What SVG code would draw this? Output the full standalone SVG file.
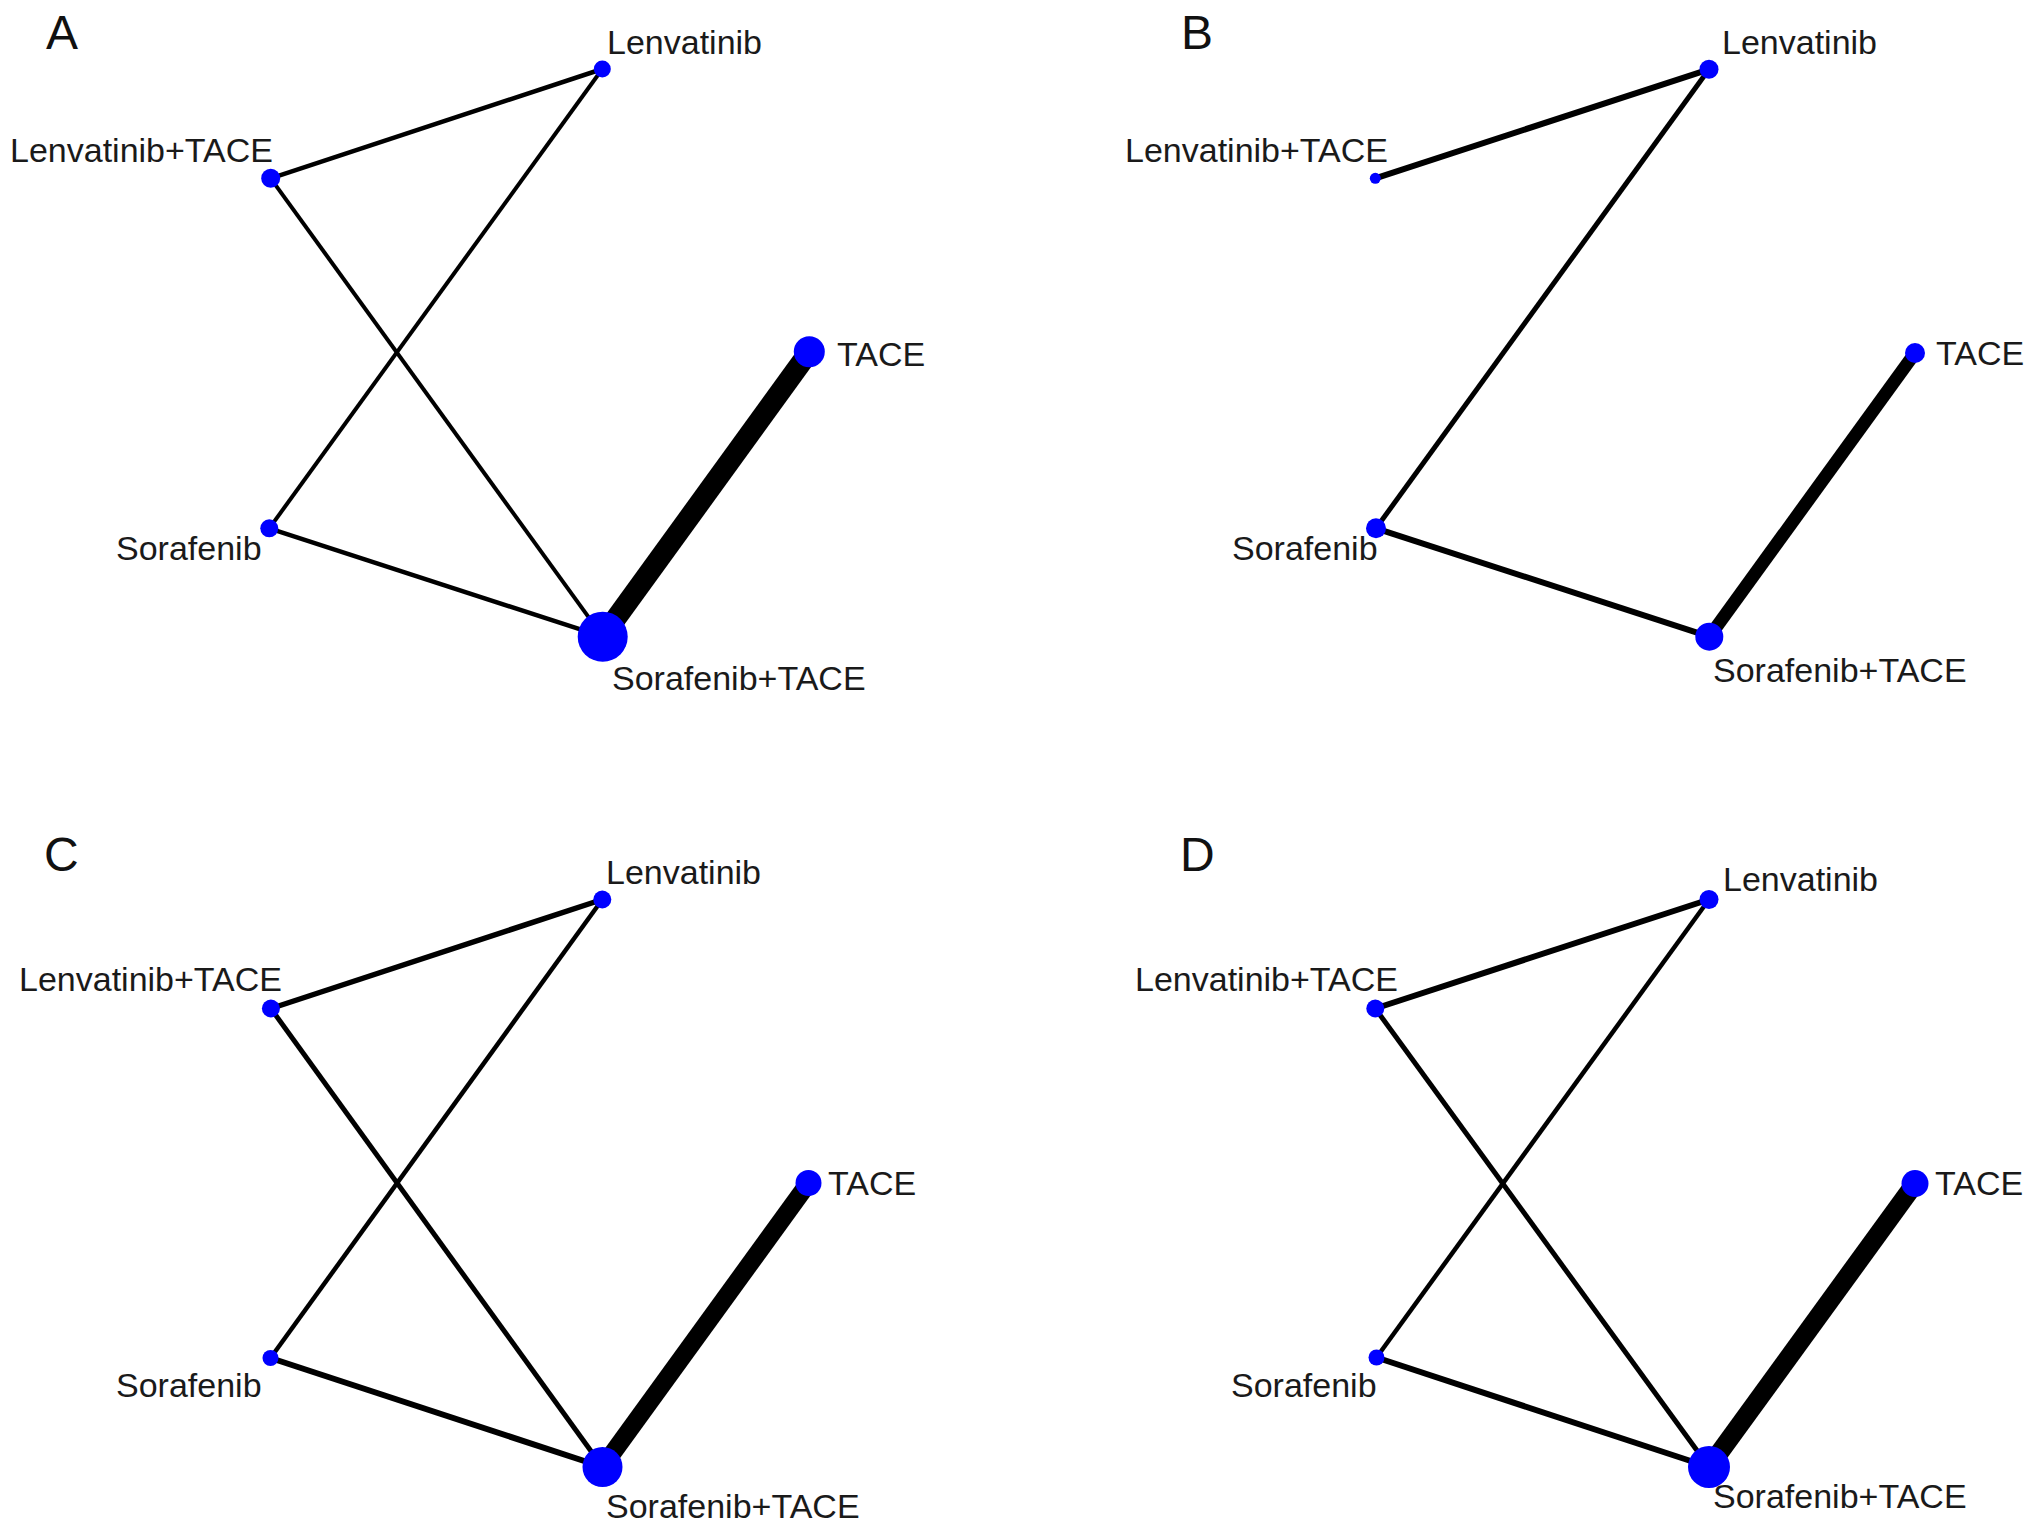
<svg xmlns="http://www.w3.org/2000/svg" width="2032" height="1534" viewBox="0 0 2032 1534">
<style>
.bg{fill:#ffffff}
.lbl{font-family:"Liberation Sans",Arial,Helvetica,sans-serif;font-size:34px;fill:#1a1a1a}
.pl{font-family:"Liberation Sans",Arial,Helvetica,sans-serif;font-size:48px;fill:#111111}
.node{fill:#0000ff}
.edge{stroke:#000000;fill:none;stroke-linecap:butt}
</style>
<rect class="bg" x="0" y="0" width="2032" height="1534"/>

<!-- Panel A -->
<g id="panelA">
  <text class="pl" x="46" y="49">A</text>
  <g id="A-connectors">
    <line class="edge" x1="270.7" y1="178.3" x2="602.3" y2="69" stroke-width="4.5"/>
    <line class="edge" x1="602.3" y1="69" x2="269.3" y2="528.3" stroke-width="4"/>
    <line class="edge" x1="270.7" y1="178.3" x2="602.7" y2="636.7" stroke-width="4"/>
    <line class="edge" x1="269.3" y1="528.3" x2="602.7" y2="636.7" stroke-width="4.5"/>
    <line class="edge" x1="602.7" y1="636.7" x2="809.3" y2="351.7" stroke-width="21"/>
  </g>
  <g id="A-Lenvatinib"><circle class="node" cx="602.3" cy="69" r="8.5"/><text class="lbl" x="607" y="54">Lenvatinib</text></g>
  <g id="A-LenvatinibTACE"><circle class="node" cx="270.7" cy="178.3" r="9.5"/><text class="lbl" x="10" y="162">Lenvatinib+TACE</text></g>
  <g id="A-TACE"><circle class="node" cx="809.3" cy="351.7" r="15.5"/><text class="lbl" x="837" y="366">TACE</text></g>
  <g id="A-Sorafenib"><circle class="node" cx="269.3" cy="528.3" r="9"/><text class="lbl" x="116" y="560">Sorafenib</text></g>
  <g id="A-SorafenibTACE"><circle class="node" cx="602.7" cy="636.7" r="25"/><text class="lbl" x="612" y="690">Sorafenib+TACE</text></g>
</g>

<!-- Panel B -->
<g id="panelB">
  <text class="pl" x="1181" y="49">B</text>
  <g id="B-connectors">
    <line class="edge" x1="1375.3" y1="178.3" x2="1709" y2="69.3" stroke-width="6"/>
    <line class="edge" x1="1709" y1="69.3" x2="1376" y2="528.3" stroke-width="5"/>
    <line class="edge" x1="1376" y1="528.3" x2="1709.3" y2="636.7" stroke-width="6"/>
    <line class="edge" x1="1709.3" y1="636.7" x2="1915" y2="353" stroke-width="13"/>
  </g>
  <g id="B-Lenvatinib"><circle class="node" cx="1709" cy="69.3" r="9.5"/><text class="lbl" x="1722" y="54">Lenvatinib</text></g>
  <g id="B-LenvatinibTACE"><circle class="node" cx="1375.3" cy="178.3" r="5.5"/><text class="lbl" x="1125" y="162">Lenvatinib+TACE</text></g>
  <g id="B-TACE"><circle class="node" cx="1915" cy="353" r="10"/><text class="lbl" x="1936" y="365">TACE</text></g>
  <g id="B-Sorafenib"><circle class="node" cx="1376" cy="528.3" r="10"/><text class="lbl" x="1232" y="560">Sorafenib</text></g>
  <g id="B-SorafenibTACE"><circle class="node" cx="1709.3" cy="636.7" r="14"/><text class="lbl" x="1713" y="682">Sorafenib+TACE</text></g>
</g>

<!-- Panel C -->
<g id="panelC">
  <text class="pl" x="44" y="871">C</text>
  <g id="C-connectors">
    <line class="edge" x1="270.9" y1="1008.5" x2="602.3" y2="899.5" stroke-width="5.5"/>
    <line class="edge" x1="602.3" y1="899.5" x2="270.5" y2="1358" stroke-width="4.5"/>
    <line class="edge" x1="270.9" y1="1008.5" x2="602.5" y2="1467" stroke-width="5"/>
    <line class="edge" x1="270.5" y1="1358" x2="602.5" y2="1467" stroke-width="6"/>
    <line class="edge" x1="602.5" y1="1467" x2="808.5" y2="1183" stroke-width="18"/>
  </g>
  <g id="C-Lenvatinib"><circle class="node" cx="602.3" cy="899.5" r="9"/><text class="lbl" x="606" y="884">Lenvatinib</text></g>
  <g id="C-LenvatinibTACE"><circle class="node" cx="270.9" cy="1008.5" r="9"/><text class="lbl" x="19" y="991">Lenvatinib+TACE</text></g>
  <g id="C-TACE"><circle class="node" cx="808.5" cy="1183" r="13"/><text class="lbl" x="828" y="1195">TACE</text></g>
  <g id="C-Sorafenib"><circle class="node" cx="270.5" cy="1358" r="8"/><text class="lbl" x="116" y="1397">Sorafenib</text></g>
  <g id="C-SorafenibTACE"><circle class="node" cx="602.5" cy="1467" r="20"/><text class="lbl" x="606" y="1518">Sorafenib+TACE</text></g>
</g>

<!-- Panel D -->
<g id="panelD">
  <text class="pl" x="1180" y="871">D</text>
  <g id="D-connectors">
    <line class="edge" x1="1375.3" y1="1008.5" x2="1709" y2="899.5" stroke-width="6"/>
    <line class="edge" x1="1709" y1="899.5" x2="1376.5" y2="1357.5" stroke-width="4.5"/>
    <line class="edge" x1="1375.3" y1="1008.5" x2="1709" y2="1467" stroke-width="5"/>
    <line class="edge" x1="1376.5" y1="1357.5" x2="1709" y2="1467" stroke-width="6"/>
    <line class="edge" x1="1709" y1="1467" x2="1915" y2="1183.5" stroke-width="19"/>
  </g>
  <g id="D-Lenvatinib"><circle class="node" cx="1709" cy="899.5" r="9.5"/><text class="lbl" x="1723" y="891">Lenvatinib</text></g>
  <g id="D-LenvatinibTACE"><circle class="node" cx="1375.3" cy="1008.5" r="9"/><text class="lbl" x="1135" y="991">Lenvatinib+TACE</text></g>
  <g id="D-TACE"><circle class="node" cx="1915" cy="1183.5" r="13.5"/><text class="lbl" x="1935" y="1195">TACE</text></g>
  <g id="D-Sorafenib"><circle class="node" cx="1376.5" cy="1357.5" r="8"/><text class="lbl" x="1231" y="1397">Sorafenib</text></g>
  <g id="D-SorafenibTACE"><circle class="node" cx="1709" cy="1467" r="21"/><text class="lbl" x="1713" y="1508">Sorafenib+TACE</text></g>
</g>
</svg>
